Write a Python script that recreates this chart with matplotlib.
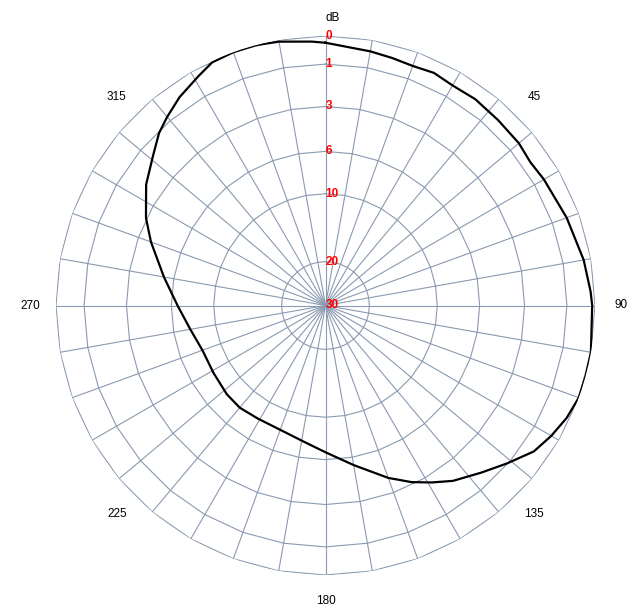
import numpy as np
import matplotlib
matplotlib.use('Agg')
import matplotlib.pyplot as plt

# Диаграмма направленности, уровни в дБ (0 = максимум)
angles_deg = [0, 10, 15, 20, 25, 30, 36, 43, 50, 55, 60, 70, 80, 87, 90,
              100, 105, 110, 115, 120, 125, 131, 137, 144, 149, 154, 160,
              170, 180, 189, 200, 211, 220, 228, 239, 250, 260, 270, 280,
              290, 296, 304, 311, 316, 320, 325, 331, 335, 340, 345, 350,
              357, 360]
level_db = [0.22, 0.38, 0.44, 0.49, 0.43, 0.52, 0.49, 0.55, 0.58, 0.67, 0.59,
            0.43, 0.24, 0.13, 0.09, 0.0, 0.0, 0.0, 0.11, 0.29, 0.51, 1.03,
            1.54, 2.08, 2.6, 3.14, 3.92, 5.39, 6.6, 7.37, 7.89, 7.94, 7.79,
            7.85, 8.04, 8.02, 7.43, 6.5, 5.24, 3.78, 2.96, 2.1, 1.54, 1.07,
            0.81, 0.51, 0.24, 0.04, 0.0, 0.0, 0.05, 0.17, 0.22]

ring_db = [0, 1, 3, 6, 10, 20]
ring_labels = ['0', '1', '3', '6', '10', '20', '30']
spoke_deg = list(range(0, 360, 10))
angle_ticks = [45, 90, 135, 180, 225, 270, 315]

grid_col = '#8a9ab0'


def fwd(x):
    return np.log10(1 + np.asarray(x, dtype=float) / 4.0)


def inv(y):
    return 4.0 * (10 ** np.asarray(y, dtype=float) - 1)


fig = plt.figure(figsize=(6.39, 6.10), dpi=100)
ax = fig.add_axes([56 / 639, 35 / 610, 539 / 639, 539 / 610], projection='polar')
ax.set_theta_zero_location('N')
ax.set_theta_direction(-1)
ax.set_rscale('function', functions=(fwd, inv))
ax.set_ylim(30, 0)
ax.grid(False)
ax.spines['polar'].set_visible(False)
ax.set_yticks([])

# сетка: многоугольники и лучи через 10 градусов
th_ring = np.deg2rad(spoke_deg + [360])
for lv in ring_db:
    ax.plot(th_ring, [lv] * len(th_ring), color=grid_col, lw=0.8, zorder=1)
for a in spoke_deg:
    ax.plot([np.deg2rad(a)] * 2, [30, 0], color=grid_col, lw=0.8, zorder=1)

# подписи дБ
for lv, lab in zip(ring_db + [30], ring_labels):
    ax.text(0, lv, lab, color='red', fontweight='bold', fontsize=8.5,
            family='Liberation Sans', ha='left', va='center', zorder=3)
ax.text(0.5, 1.033, 'dB', transform=ax.transAxes, ha='left', va='center',
        fontsize=8.5, family='Liberation Sans')

ax.set_xticks(np.deg2rad(angle_ticks))
ax.set_xticklabels([str(a) for a in angle_ticks], fontsize=8.5,
                   family='Liberation Sans')
ax.tick_params(axis='x', pad=8)

ax.plot(np.deg2rad(angles_deg), level_db, color='black', lw=1.6, zorder=2)

fig.savefig('out.png', dpi=100)
